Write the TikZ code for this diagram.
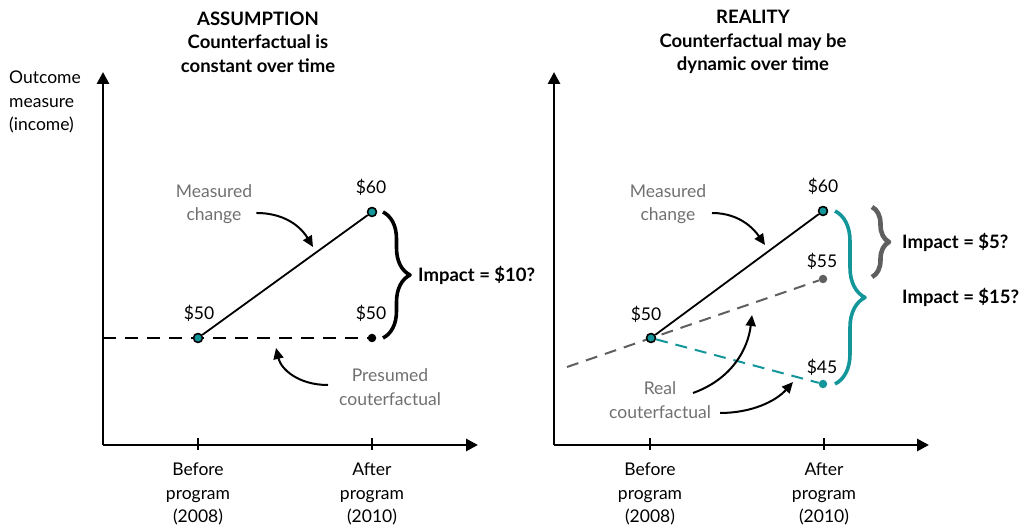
\documentclass[tikz,border=0pt]{standalone}
\usepackage{fontspec}
\setmainfont{Lato}
\usetikzlibrary{arrows.meta,decorations.pathreplacing}
\definecolor{tealc}{HTML}{13969A}
\definecolor{darkg}{HTML}{5F5F5F}
\definecolor{textg}{HTML}{707070}
\tikzset{
  txt/.style={font=\fontsize{17.5}{23.5}\selectfont,align=center,inner sep=0pt},
  bold/.style={txt,font=\fontsize{18.5}{23.5}\selectfont\bfseries},
  axis/.style={line width=2.8pt,-{Triangle[length=12pt,width=12pt]}},
  curv/.style={line width=2pt,-{Triangle[length=11pt,width=10pt]}},
  tdot/.style={circle,inner sep=0pt,minimum size=9pt,draw=black,line width=1.6pt,fill=tealc},
  pdot/.style={circle,inner sep=0pt,minimum size=8.5pt,fill=#1},
  bracec/.style={decorate,decoration={brace,amplitude=#1},line width=3.6pt}
}
\begin{document}
\begin{tikzpicture}[x=1pt,y=1pt,line join=round,line cap=butt]
\useasboundingbox (0,0) rectangle (1020,529);
\def\ya{84}
% axes and ticks of both panels
\foreach \o/\xe/\ta/\tb/\nm in {103/478/198/372/L,554/929/650/824/R}{
  \coordinate (o\nm) at (\o,\ya);
  \coordinate (ty\nm) at (\o,457);
  \coordinate (tx\nm) at (\xe,\ya);
  \draw[axis] (o\nm) -- (ty\nm);
  \draw[axis] (o\nm) -- (tx\nm);
  \draw[line width=2pt] (\ta,\ya-5)--(\ta,\ya+7) (\tb,\ya-5)--(\tb,\ya+7);
  \node[txt] (bef\nm) at (\ta,35) {Before\\program\\(2008)};
  \node[txt] (aft\nm) at (\tb,35) {After\\program\\(2010)};
}
\node[txt,align=left,anchor=west] (ylab) at (9,427) {Outcome\\measure\\(income)};
\node[bold] (titL) at (258,487) {ASSUMPTION\\Counterfactual is\\constant over time};
\node[bold] (titR) at (753,487) {REALITY\\Counterfactual may be\\dynamic over time};

% left panel
\node[pdot=black] (c1) at (372,191) {};
\draw[line width=1.8pt,dash pattern=on 13pt off 9pt] (oL|-c1) -- (c1);
\node[tdot] (a1) at (198,191) {};
\node[tdot] (b1) at (372,317) {};
\draw[line width=1.8pt] (a1) -- (b1);
\node[txt] at (371,342) {\$60};
\node[txt] at (199,216) {\$50};
\node[txt] at (371,216) {\$50};
\draw[bracec=27] (383,317) -- (383,191);
\node[bold,anchor=west] (impL) at (418,254) {Impact = \$10?};
\node[txt,text=textg] (mcL) at (214,325) {Measured\\change};
\coordinate (mcLe) at (313,282);
\draw[curv] ([shift={(4,-9)}]mcL.east) .. controls (290,316) and (304,297) .. (mcLe);
\node[txt,text=textg] (pcL) at (390,142) {Presumed\\couterfactual};
\coordinate (pcLe) at (276,181);
\draw[curv] (328,144) .. controls (298,144) and (281,160) .. (pcLe);

% right panel
\coordinate (gs) at (567,162);
\node[pdot=darkg] (d2) at (823,250) {};
\node[pdot=tealc] (e2) at (823,145) {};
\draw[darkg,line width=2pt,dash pattern=on 12pt off 8pt] (gs) -- (d2);
\node[tdot] (a2) at (651,191) {};
\draw[tealc,line width=2pt,dash pattern=on 12pt off 8pt] (a2) -- (e2);
\node[tdot] (b2) at (823,318) {};
\draw[line width=1.8pt] (a2) -- (b2);
\node[txt] at (823,343) {\$60};
\node[txt] at (822,268) {\$55};
\node[txt] at (822,162) {\$45};
\node[txt] at (646,215) {\$50};
\draw[bracec=30,tealc] (835,318) -- (835,145);
\draw[bracec=17,darkg,line width=4.6pt] (872,322) -- (872,252);
\node[bold,anchor=west] (impR1) at (902,287) {Impact = \$5?};
\node[bold,anchor=west] (impR2) at (902,232) {Impact = \$15?};
\node[txt,text=textg] (mcR) at (668,325) {Measured\\change};
\coordinate (mcRe) at (765,284);
\draw[curv] (712,316) .. controls (742,316) and (756,297) .. (mcRe);
\node[txt,text=textg] (rcR) at (660,129) {Real\\couterfactual};
\coordinate (rcRa) at (752,214);
\coordinate (rcRb) at (793,147);
\draw[curv] (693,136) .. controls (732,150) and (748,180) .. (rcRa);
\draw[curv] (720,116) .. controls (752,116) and (776,128) .. (rcRb);
\end{tikzpicture}
\end{document}
